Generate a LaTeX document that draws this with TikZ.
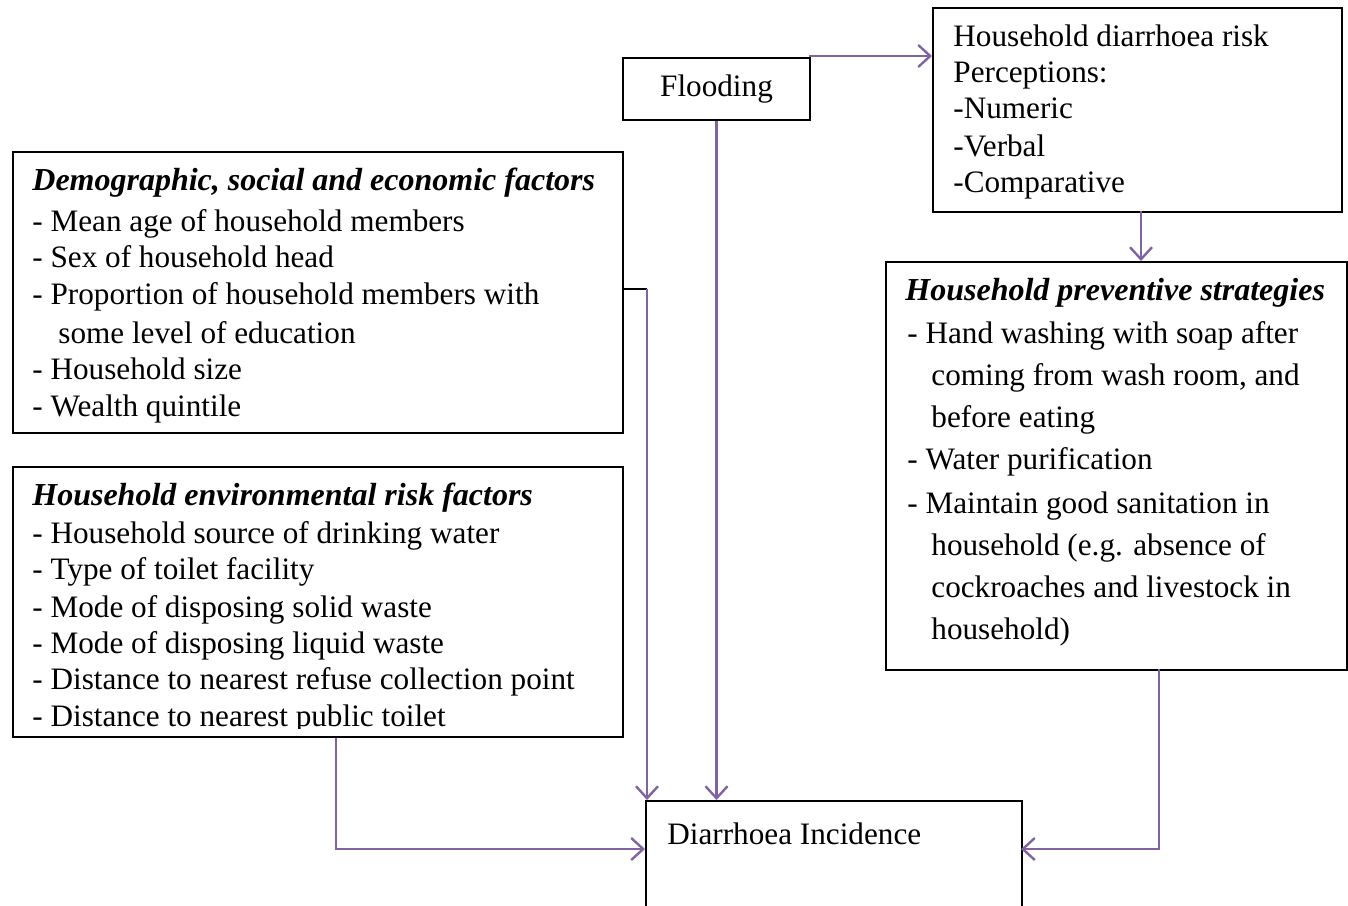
\documentclass[tikz,border=0pt]{standalone}
\usepackage{fontspec}
\setmainfont{Liberation Serif}
\usetikzlibrary{arrows.meta}
\definecolor{arr}{RGB}{128,100,162}
\begin{document}
\begin{tikzpicture}[x=0.5pt,y=-0.5pt,
  box/.style={draw,line width=1pt,inner sep=0pt,anchor=north west},
  conn/.style={draw=arr,line width=1.2pt,-{Straight Barb[length=6pt,width=11pt,line width=1.2pt]}},
  plain/.style={draw=black,line width=1pt},
  txt/.style={anchor=base west,inner sep=0pt,font=\fontsize{15.6}{18}\selectfont},
  ttl/.style={txt,font=\fontsize{16}{18}\selectfont\bfseries\itshape}]
\useasboundingbox (0,0) rectangle (1348,905);
% boxes
\node[box,minimum width=93.5pt,minimum height=31pt] (flood) at (622,57) {};
\node[box,minimum width=204.5pt,minimum height=102pt] (risk) at (932,7) {};
\node[box,minimum width=305pt,minimum height=140.5pt] (demo) at (12,151) {};
\node[box,minimum width=305pt,minimum height=135pt] (env) at (12,466) {};
\node[box,minimum width=230.5pt,minimum height=204pt] (prev) at (885,261) {};
\node[box,minimum width=188pt,minimum height=60pt] (diar) at (645,800) {};
% texts
\node[txt,anchor=center] (tflood) at (flood.center) {Flooding};
\node[txt] (r1) at (953,46) {Household diarrhoea risk};
\node[txt] (r2) at (953,82) {Perceptions:};
\node[txt] (r3) at (953,118) {-Numeric};
\node[txt] (r4) at (953,156) {-Verbal};
\node[txt] (r5) at (953,192) {-Comparative};
\node[ttl] (d0) at (32,190) {Demographic, social and economic factors};
\node[txt] (d1) at (32,231) {- Mean age of household members};
\node[txt] (d2) at (32,267) {- Sex of household head};
\node[txt] (d3) at (32,304) {- Proportion of household members with};
\node[txt] (d4) at (58,343) {some level of education};
\node[txt] (d5) at (32,379) {- Household size};
\node[txt] (d6) at (32,416) {- Wealth quintile};
\node[ttl] (e0) at (32,505) {Household environmental risk factors};
\node[txt] (e1) at (32,543) {- Household source of drinking water};
\node[txt] (e2) at (32,579) {- Type of toilet facility};
\node[txt] (e3) at (32,617) {- Mode of disposing solid waste};
\node[txt] (e4) at (32,653) {- Mode of disposing liquid waste};
\node[txt] (e5) at (32,689) {- Distance to nearest refuse collection point};
\begin{scope}
\clip (12,700) rectangle (622,728);
\node[txt] (e6) at (32,726) {- Distance to nearest public toilet};
\end{scope}
\node[ttl] (p0) at (905,300) {Household preventive strategies};
\node[txt] (p1) at (907,343) {- Hand washing with soap after};
\node[txt] (p2) at (931,385) {coming from wash room, and};
\node[txt] (p3) at (931,427) {before eating};
\node[txt] (p4) at (907,469) {- Water purification};
\node[txt] (p5) at (907,513) {- Maintain good sanitation in};
\node[txt] (p6) at (931,555) {household (e.g. absence of};
\node[txt] (p7) at (931,597) {cockroaches and livestock in};
\node[txt] (p8) at (931,639) {household)};
\node[txt] (dt) at (667,844) {Diarrhoea Incidence};
% connectors
\coordinate (fk) at (809,56);
\draw[conn] (fk) -- (risk.west |- fk);
\draw[conn] (flood.south) -- (flood.south |- diar.north);
\coordinate (rk) at (1141,211);
\draw[conn] (rk) -- (rk |- prev.north);
\coordinate (dk) at (647,289);
\draw[plain] (demo.east |- dk) -- (dk);
\draw[conn] (dk) -- (dk |- diar.north);
\coordinate (ek) at (336,738);
\coordinate (el) at (645,849);
\draw[conn] (ek) |- (el);
\coordinate (pk) at (1159,669);
\coordinate (pl) at (1021,849);
\draw[conn] (pk) |- (pl);
\end{tikzpicture}
\end{document}
